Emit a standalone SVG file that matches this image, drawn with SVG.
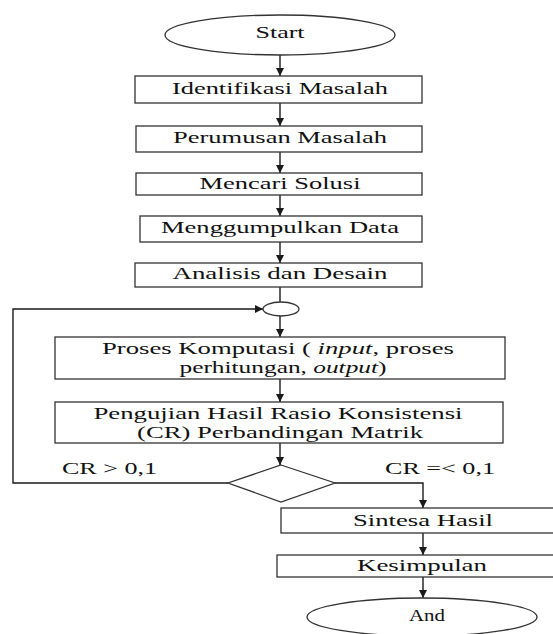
<svg xmlns="http://www.w3.org/2000/svg" width="553" height="634" viewBox="0 0 553 634">
<defs>
<marker id="ah" markerWidth="10" markerHeight="10" refX="9" refY="5" orient="auto" markerUnits="userSpaceOnUse">
<path d="M1,1 L9,5 L1,9 Z" fill="#1a1a1a"/>
</marker>
<style>
.s{fill:#fff;stroke:#333;stroke-width:1.3}
.c{fill:none;stroke:#1a1a1a;stroke-width:1.4}
.a{marker-end:url(#ah)}
.t{font-family:"Liberation Serif","Times New Roman",serif;font-size:17px;fill:#111;text-anchor:middle}
.l{text-anchor:start}
</style>
</defs>
<rect width="553" height="634" fill="#fff"/>
<g id="connectors">
<line class="c a" x1="280" y1="55" x2="280" y2="76"/>
<line class="c a" x1="280" y1="103" x2="280" y2="126"/>
<line class="c a" x1="280" y1="152" x2="280" y2="173"/>
<line class="c a" x1="280" y1="195" x2="280" y2="216"/>
<line class="c a" x1="280" y1="242" x2="280" y2="263"/>
<line class="c" x1="280" y1="287" x2="280" y2="302"/>
<line class="c a" x1="280" y1="316" x2="280" y2="337"/>
<polyline class="c a" points="228,483 13,483 13,309 263,309"/>
<line class="c a" x1="280" y1="379" x2="280" y2="402"/>
<line class="c a" x1="280" y1="443" x2="280" y2="465"/>
<polyline class="c a" points="335,483 423,483 423,508"/>
<line class="c a" x1="423" y1="533" x2="423" y2="555"/>
<line class="c a" x1="423" y1="577" x2="423" y2="598"/>
</g>
<g id="start"><ellipse class="s" cx="280" cy="35" rx="115" ry="20"/><text class="t" x="280" y="38" textLength="49" lengthAdjust="spacingAndGlyphs">Start</text></g>
<g id="identifikasi"><rect class="s" x="135" y="76" width="287" height="27"/><text class="t" x="280" y="94" textLength="216" lengthAdjust="spacingAndGlyphs">Identifikasi Masalah</text></g>
<g id="perumusan"><rect class="s" x="136" y="126" width="286" height="26"/><text class="t" x="280" y="143" textLength="214" lengthAdjust="spacingAndGlyphs">Perumusan Masalah</text></g>
<g id="mencari"><rect class="s" x="136" y="173" width="286" height="22"/><text class="t" x="280" y="189" textLength="161" lengthAdjust="spacingAndGlyphs">Mencari Solusi</text></g>
<g id="menggumpulkan"><rect class="s" x="140" y="216" width="282" height="26"/><text class="t" x="280" y="233" textLength="238" lengthAdjust="spacingAndGlyphs">Menggumpulkan Data</text></g>
<g id="analisis"><rect class="s" x="135" y="263" width="287" height="24"/><text class="t" x="280" y="279" textLength="215" lengthAdjust="spacingAndGlyphs">Analisis dan Desain</text></g>
<g id="junction"><ellipse class="s" cx="281" cy="309" rx="18" ry="7"/></g>
<g id="proses"><rect class="s" x="55" y="337" width="450" height="42"/>
<text class="t" x="278" y="354" textLength="352" lengthAdjust="spacingAndGlyphs">Proses Komputasi ( <tspan font-style="italic">input</tspan>, proses</text>
<text class="t" x="283" y="373" textLength="207" lengthAdjust="spacingAndGlyphs">perhitungan, <tspan font-style="italic">output</tspan>)</text></g>
<g id="pengujian"><rect class="s" x="55" y="402" width="448" height="41"/>
<text class="t" x="278" y="419" textLength="369" lengthAdjust="spacingAndGlyphs">Pengujian Hasil Rasio Konsistensi</text>
<text class="t" x="280" y="438" textLength="286" lengthAdjust="spacingAndGlyphs">(CR) Perbandingan Matrik</text></g>
<g id="decision"><polygon class="s" points="281,465 335,483 281,502 228,483"/></g>
<g id="labels">
<text class="t l" x="62" y="474" textLength="95" lengthAdjust="spacingAndGlyphs">CR &gt; 0,1</text>
<text class="t l" x="385" y="474" textLength="110" lengthAdjust="spacingAndGlyphs">CR =&lt; 0,1</text>
</g>
<g id="sintesa"><rect class="s" x="281" y="508" width="290" height="25"/><text class="t" x="423" y="526" textLength="140" lengthAdjust="spacingAndGlyphs">Sintesa Hasil</text></g>
<g id="kesimpulan"><rect class="s" x="277" y="555" width="294" height="22"/><text class="t" x="422" y="571" textLength="130" lengthAdjust="spacingAndGlyphs">Kesimpulan</text></g>
<g id="end"><ellipse class="s" cx="422" cy="617" rx="115" ry="19"/><text class="t" x="427" y="621" textLength="36" lengthAdjust="spacingAndGlyphs">And</text></g>
</svg>
